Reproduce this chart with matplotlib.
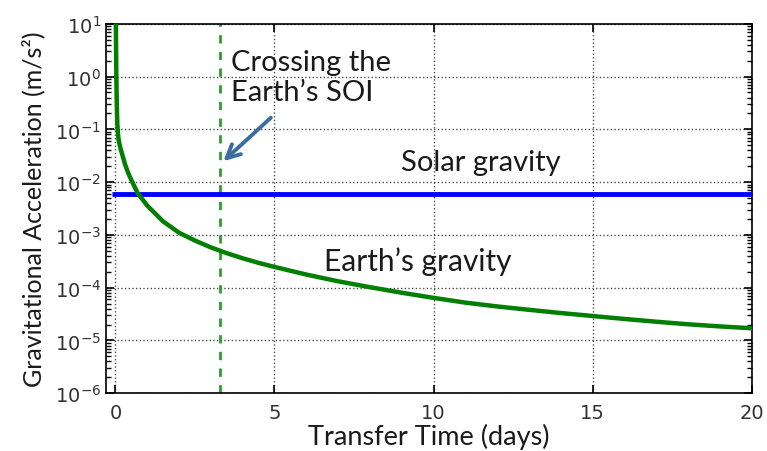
import numpy as np
import matplotlib
matplotlib.use("Agg")
import matplotlib.pyplot as plt
from matplotlib.ticker import NullFormatter

# values
t_earth = [0.015, 0.02, 0.03, 0.045, 0.06, 0.08, 0.1, 0.15, 0.2, 0.3, 0.4, 0.5,
           0.7, 1.0, 1.5, 2.0, 2.5, 3.0, 3.5, 4.0, 4.5, 5.0, 6.0, 7.0, 8.0, 9.0,
           10, 11, 12, 13, 14, 15, 16, 17, 18, 19, 20]
a_earth = [12, 4.5, 1.0, 0.3, 0.13, 0.085, 0.064, 0.046, 0.036, 0.022, 0.015,
           0.011, 0.0062, 0.0036, 0.0018, 0.0011, 0.00078, 0.00058, 0.00045,
           0.00036, 0.000295, 0.000247, 0.000177, 0.000132, 0.000102, 8.0e-5,
           6.4e-5, 5.2e-5, 4.4e-5, 3.8e-5, 3.3e-5, 2.9e-5, 2.55e-5, 2.26e-5,
           2.02e-5, 1.84e-5, 1.7e-5]
t_sun = [-0.1, 20]
a_sun = [0.0059, 0.0059]
t_soi = 3.3

xticks = [0, 5, 10, 15, 20]
decades = list(range(-6, 2))
label_font = ["Lato", "DejaVu Sans"]
ink = "#1a1a1a"

fig = plt.figure(figsize=(7.67, 4.52), dpi=100)
ax = fig.add_axes([0.138, 0.128, 0.842, 0.817])

ax.plot(t_sun, a_sun, color="#0000ff", lw=3.5, solid_capstyle="butt", zorder=3)
ax.plot(t_earth, a_earth, color="#007f00", lw=3.2, zorder=4)
ax.axvline(t_soi, color="#2ca02c", lw=2, ls=(0, (3, 3)), zorder=2)

ax.set_yscale("log")
ax.set_xlim(-0.3, 20)
ax.set_ylim(1e-6, 1e1)
ax.set_xticks(xticks)
ax.set_yticks([10.0 ** k for k in decades])
ax.set_yticks([m * 10.0 ** k for k in decades[:-1] for m in range(2, 10)],
              minor=True)
ax.yaxis.set_minor_formatter(NullFormatter())
ax.grid(True, which="major", color="k", ls=":", lw=1, alpha=0.7)
ax.tick_params(which="both", direction="in", top=True, right=True,
               labelsize=14, labelcolor="#333333")
ax.tick_params(axis="x", pad=7)
ax.tick_params(which="major", length=6, width=1.2)
ax.tick_params(which="minor", length=3.5, width=1)
for s in ax.spines.values():
    s.set_linewidth(1.2)

ax.annotate("", xy=(3.33, 0.023), xytext=(4.95, 0.18),
            arrowprops=dict(arrowstyle="->", color="#3a6e9e", lw=2.8,
                            mutation_scale=24))
ax.text(3.62, 1.0, "Crossing the\nEarth\u2019s SOI", fontsize=21,
        family=label_font, color=ink, va="center", ha="left",
        linespacing=1.2)
ax.text(11.5, 0.024, "Solar gravity", fontsize=21, family=label_font,
        color=ink, ha="center", va="center")
ax.text(6.55, 3.2e-4, "Earth\u2019s gravity", fontsize=21.5, family=label_font,
        color=ink, ha="left", va="center")

ax.set_xlabel("Transfer Time (days)", fontsize=19.5, family=label_font,
              color=ink, labelpad=1)
ax.set_ylabel("Gravitational Acceleration (m/s\u00b2)", fontsize=18,
              family=label_font, color=ink, labelpad=7)

fig.savefig("out.png", dpi=100)
